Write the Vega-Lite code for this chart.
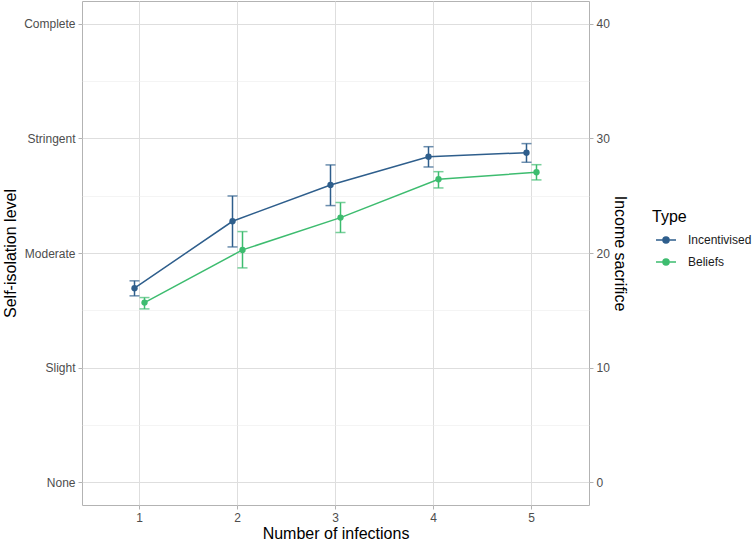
{
  "$schema": "https://vega.github.io/schema/vega-lite/v6.json",
  "width": 507,
  "height": 504,
  "autosize": "none",
  "padding": {"left": 82, "top": 1, "right": 163, "bottom": 37},
  "background": "white",
  "data": {
    "values": [
      {"infections": 1, "type": "Incentivised", "mean": 16.93, "lo": 16.26, "hi": 17.57},
      {"infections": 1, "type": "Beliefs", "mean": 15.67, "lo": 15.12, "hi": 16.11},
      {"infections": 2, "type": "Incentivised", "mean": 22.77, "lo": 20.53, "hi": 24.98},
      {"infections": 2, "type": "Beliefs", "mean": 20.27, "lo": 18.70, "hi": 21.87},
      {"infections": 3, "type": "Incentivised", "mean": 25.94, "lo": 24.14, "hi": 27.69},
      {"infections": 3, "type": "Beliefs", "mean": 23.09, "lo": 21.78, "hi": 24.40},
      {"infections": 4, "type": "Incentivised", "mean": 28.41, "lo": 27.51, "hi": 29.28},
      {"infections": 4, "type": "Beliefs", "mean": 26.44, "lo": 25.68, "hi": 27.10},
      {"infections": 5, "type": "Incentivised", "mean": 28.76, "lo": 27.92, "hi": 29.55},
      {"infections": 5, "type": "Beliefs", "mean": 27.05, "lo": 26.38, "hi": 27.71}
    ]
  },
  "encoding": {
    "x": {
      "field": "infections",
      "type": "ordinal",
      "scale": {"type": "band", "paddingInner": 0.5918, "paddingOuter": 0.3827},
      "axis": {
        "title": "Number of infections",
        "labelAngle": 0,
        "grid": true,
        "bandPosition": 0.5,
        "titlePadding": 2
      }
    },
    "xOffset": {
      "field": "type",
      "type": "nominal",
      "sort": ["Incentivised", "Beliefs"],
      "scale": {"domain": ["Incentivised", "Beliefs"], "paddingInner": 0, "paddingOuter": 1}
    },
    "color": {
      "field": "type",
      "type": "nominal",
      "sort": ["Incentivised", "Beliefs"],
      "scale": {"domain": ["Incentivised", "Beliefs"], "range": ["#2E5E8C", "#3DBC6F"]},
      "legend": {
        "title": "Type",
        "orient": "none",
        "legendX": 570,
        "legendY": 208,
        "symbolType": "M-1,0L1,0M-0.3,0A0.3,0.3,0,1,0,0.3,0A0.3,0.3,0,1,0,-0.3,0Z",
        "symbolSize": 400,
        "symbolStrokeWidth": 1.5,
        "symbolOffset": 3,
        "labelOffset": 11,
        "rowPadding": 5,
        "titlePadding": 4,
        "padding": 0,
        "encode": {
          "symbols": {
            "update": {
              "fill": {"scale": "color", "field": "value"},
              "stroke": {"scale": "color", "field": "value"},
              "strokeWidth": {"value": 1.5},
              "opacity": {"value": 1}
            }
          }
        }
      }
    }
  },
  "layer": [
    {
      "mark": {"type": "rule", "strokeWidth": 1.5},
      "encoding": {
        "y": {
          "field": "lo",
          "type": "quantitative",
          "scale": {"domain": [-2, 42], "nice": false, "zero": false},
          "axis": {
            "orient": "left",
            "title": "Self-isolation level",
            "values": [0, 5, 10, 15, 20, 25, 30, 35, 40],
            "labelExpr": "datum.value == 0 ? 'None' : datum.value == 10 ? 'Slight' : datum.value == 20 ? 'Moderate' : datum.value == 30 ? 'Stringent' : datum.value == 40 ? 'Complete' : ''",
            "grid": true,
            "gridColor": {"condition": {"test": "datum.value % 10 == 0", "value": "#DEDEDE"}, "value": "#EDEDED"},
            "gridWidth": {"condition": {"test": "datum.value % 10 == 0", "value": 1}, "value": 0.6},
            "tickOpacity": {"condition": {"test": "datum.value % 10 == 0", "value": 1}, "value": 0},
            "titlePadding": 5
          }
        },
        "y2": {"field": "hi"}
      }
    },
    {
      "mark": {"type": "tick", "orient": "horizontal", "size": 10, "thickness": 1.5},
      "encoding": {
        "y": {"field": "lo", "type": "quantitative", "axis": null}
      }
    },
    {
      "mark": {"type": "tick", "orient": "horizontal", "size": 10, "thickness": 1.5},
      "encoding": {
        "y": {"field": "hi", "type": "quantitative", "axis": null}
      }
    },
    {
      "mark": {"type": "line", "strokeWidth": 1.5},
      "encoding": {
        "y": {"field": "mean", "type": "quantitative", "axis": null}
      }
    },
    {
      "mark": {"type": "point", "filled": true, "size": 40, "opacity": 1},
      "encoding": {
        "y": {
          "field": "mean",
          "type": "quantitative",
          "axis": {
            "orient": "right",
            "title": "Income sacrifice",
            "values": [0, 10, 20, 30, 40],
            "grid": false,
            "titlePadding": 2
          }
        }
      }
    }
  ],
  "resolve": {"axis": {"y": "independent"}},
  "config": {
    "font": "Liberation Sans",
    "view": {"stroke": "#B3B3B3", "strokeWidth": 1},
    "axis": {
      "domain": false,
      "labelFont": "Liberation Sans",
      "labelFontSize": 12,
      "labelColor": "#4D4D4D",
      "titleFont": "Liberation Sans",
      "titleFontSize": 16,
      "titleFontWeight": "normal",
      "titleColor": "#000000",
      "tickColor": "#B3B3B3",
      "tickSize": 4,
      "labelPadding": 3,
      "gridColor": "#DEDEDE",
      "gridWidth": 1
    },
    "legend": {
      "titleFont": "Liberation Sans",
      "titleFontSize": 16,
      "titleFontWeight": "normal",
      "titleColor": "#000000",
      "labelFont": "Liberation Sans",
      "labelFontSize": 12,
      "labelColor": "#1A1A1A"
    }
  }
}
